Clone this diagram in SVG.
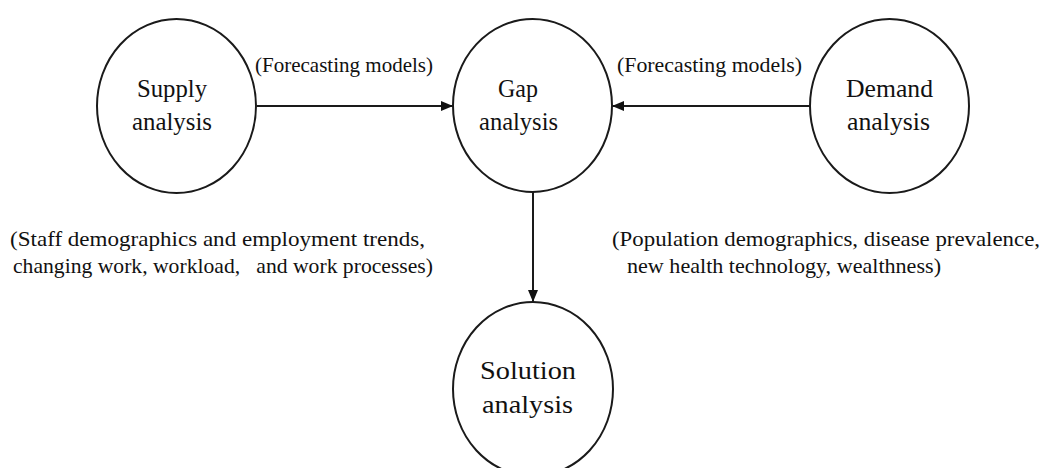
<svg xmlns="http://www.w3.org/2000/svg" width="1045" height="468" viewBox="0 0 1045 468">
<style>
.node{fill:#fff;stroke:#1a1a1a;stroke-width:2}
.t{font-family:"Liberation Serif","DejaVu Serif","Times New Roman",serif;font-size:26px;fill:#111;text-anchor:middle}
.lbl{font-family:"Liberation Serif","DejaVu Serif","Times New Roman",serif;font-size:21px;fill:#111;white-space:pre}
.edge{stroke:#1a1a1a;stroke-width:2;fill:none}
</style>
<defs>
<marker id="arr" viewBox="0 0 12 10" refX="12" refY="5" markerWidth="12" markerHeight="10" markerUnits="userSpaceOnUse" orient="auto">
<path d="M0,0 L12,5 L0,10 Z" fill="#111"/>
</marker>
</defs>
<g id="connectors">
<line class="edge" x1="257" y1="106" x2="453" y2="106" marker-end="url(#arr)"/>
<line class="edge" x1="810" y1="106" x2="612" y2="106" marker-end="url(#arr)"/>
<line class="edge" x1="533" y1="192" x2="533" y2="302" marker-end="url(#arr)"/>
</g>
<g id="supply">
<ellipse class="node" cx="176.5" cy="106" rx="79.5" ry="87"/>
<text class="t" x="172" y="97" textLength="70" lengthAdjust="spacingAndGlyphs">Supply</text>
<text class="t" x="172" y="130" textLength="80" lengthAdjust="spacingAndGlyphs">analysis</text>
</g>
<g id="gap">
<ellipse class="node" cx="532.5" cy="105.5" rx="79.5" ry="86.5"/>
<text class="t" x="518" y="97" textLength="40" lengthAdjust="spacingAndGlyphs">Gap</text>
<text class="t" x="518.5" y="130" textLength="79" lengthAdjust="spacingAndGlyphs">analysis</text>
</g>
<g id="demand">
<ellipse class="node" cx="889.5" cy="106" rx="79.5" ry="87"/>
<text class="t" x="889.5" y="97" textLength="87" lengthAdjust="spacingAndGlyphs">Demand</text>
<text class="t" x="888.5" y="130" textLength="83" lengthAdjust="spacingAndGlyphs">analysis</text>
</g>
<g id="solution">
<ellipse class="node" cx="533" cy="389" rx="80" ry="87"/>
<text class="t" x="528" y="379" textLength="96" lengthAdjust="spacingAndGlyphs">Solution</text>
<text class="t" x="527.5" y="413" textLength="91" lengthAdjust="spacingAndGlyphs">analysis</text>
</g>
<g id="labels">
<text class="lbl" x="255" y="72" textLength="178" lengthAdjust="spacingAndGlyphs">(Forecasting models)</text>
<text class="lbl" x="617" y="72" textLength="185" lengthAdjust="spacingAndGlyphs">(Forecasting models)</text>
<text class="lbl" x="10" y="246" textLength="415" lengthAdjust="spacingAndGlyphs">(Staff demographics and employment trends,</text>
<text class="lbl" x="13" y="273" textLength="420" lengthAdjust="spacingAndGlyphs">changing work, workload,   and work processes)</text>
<text class="lbl" x="612" y="246" textLength="428" lengthAdjust="spacingAndGlyphs">(Population demographics, disease prevalence,</text>
<text class="lbl" x="627" y="273" textLength="314" lengthAdjust="spacingAndGlyphs">new health technology, wealthness)</text>
</g>
</svg>
